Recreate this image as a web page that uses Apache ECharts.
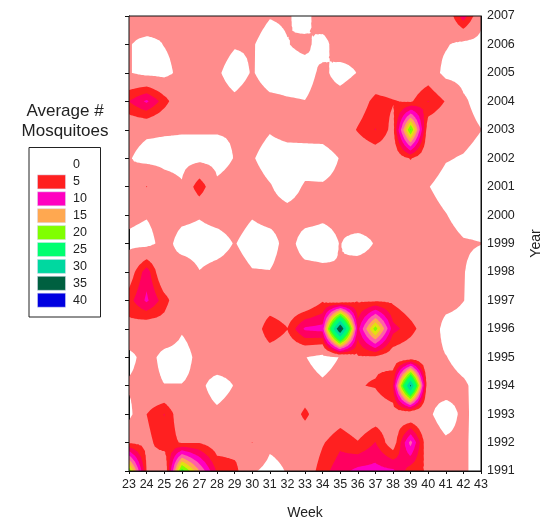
<!DOCTYPE html>
<html><head><meta charset="utf-8">
<style>html,body{margin:0;padding:0;background:#fff}#c{width:544px;height:521px}</style>
<script src="https://cdn.jsdelivr.net/npm/echarts@6/dist/echarts.min.js"></script>
</head><body><div id="c"></div>
<script>
const weeks = [23,24,25,26,27,28,29,30,31,32,33,34,35,36,37,38,39,40,41,42,43];
const years = [1991,1992,1993,1994,1995,1996,1997,1998,1999,2000,2001,2002,2003,2004,2005,2006,2007];
const y1991 = [22,4.9,1.5,24,15,7,6,1.4,0,1.2,2.75,6.5,9,10.8,11,10.5,6,4.7,2,1.4,0];
const y1992 = [4.6,4.1,6.5,4.7,4.8,3.3,3.4,5.05,1.67,2,2,4.7,6.9,5.2,7.6,3,13.5,2.2,1.33,1.4,0];
const y1993 = [0,5,7.6,2.6,2,1.47,2,2,2,2,5.9,2,3.2,2,3,3.4,1.5,1.35,0,1.47,0];
const y1994 = [1.47,2,1.08,1.08,1.55,0,1.1,2,2,2,2,1.4,2,4.85,5.2,7.4,36,1.5,2,1.4,0];
const y1995 = [0,2.3,0,0,1.67,2.6,2,2,2.6,2,1.1,0,1.1,4.7,4.4,3,2.5,2,1.1,0,0];
const y1996 = [3.9,2.4,3.4,1.27,2,2,2,2,7.4,5.1,10.5,11,41,9,21.5,8.5,6,3,0,0,0];
const y1997 = [6.5,10.5,6.2,2,2,2,2,2,2.2,2,1.5,4.7,2,4.7,4.4,4.4,2.8,2,2,1.05,0];
const y1998 = [3,9,1.5,2.5,1.07,1.75,2,1.15,1.07,2,1.75,1.45,1.05,2.3,2,2,2,2,2,1.1,0];
const y1999 = [0.4,0,2,0,0,0,1.12,0,0,1.9,0,0,1.08,0,1.16,2,2,2,2,1.25,1.05];
const y2000 = [1.6,1.18,2,1.67,1.18,1.85,2,1.18,1.85,1.75,1.85,1.4,1.5,2.7,2,2,2,2,1.1,0,0];
const y2001 = [1.5,5.1,2.5,1.33,7,1.56,2,2,1.18,0,1.25,1.2,1.5,2,2,2,2,1.1,0,0,0];
const y2002 = [1.2,0,0,0,0,0,1.1,1.2,0,0,0,0,1.1,2,2.7,2.8,5.2,2.6,1.2,0.8,0];
const y2003 = [2,1.5,1.3,1.2,1.2,1.2,1.2,2,1.18,1.8,1.9,2,2.5,5.3,7.6,4,23,2.8,2,2,1.05];
const y2004 = [7.5,10.5,6.2,2,2,2,1.47,2,1.47,1.2,1.05,2,2.2,3,6,5.2,4.6,7.6,4.8,1.4,0];
const y2005 = [1.2,0,0,2,2,1.33,0,1.17,0,0,0,1.6,0,1.1,2,2,2,3,0,0,0];
const y2006 = [1.2,0,1.1,2,2,2,1.2,1.2,0,0.9,1.6,0,2.6,2,2,2,2,2,1.3,0,0];
const y2007 = [2,3.5,2,2,2,2,2,2,1.13,1.3,0,2.7,2,2,2,2,2,2,2,9,2];
const grid = [y1991,y1992,y1993,y1994,y1995,y1996,y1997,y1998,y1999,y2000,y2001,y2002,y2003,y2004,y2005,y2006,y2007];

const levels = [1,5,7.5,10,12.5,15,17.5,20,22.5,25,30,35,40];
const levelColors = ['#FF8C8C','#FF2020','#FF0060','#FF00C0','#FF60A8','#FFA850','#E4E010','#80FF00','#30FF30','#00FF70','#00D8A0','#006040','#0000E0'];
const legendLabels = ['0','5','10','15','20','25','30','35','40'];
const legendColors = [null,'#FF2020','#FF00C0','#FFA850','#80FF00','#00FF70','#00D8A0','#006040','#0000E0'];

// one item per contour level, painted in ascending order
const bands = levels.map((lvl, li) => [weeks[0], years[0], li]);
const SUB = 5;

function clipAbove(tri, lvl) {
  const out = [];
  for (let k = 0; k < tri.length; k++) {
    const a = tri[k], b = tri[(k + 1) % tri.length];
    const ia = a[2] >= lvl, ib = b[2] >= lvl;
    if (ia) out.push(a);
    if (ia !== ib) {
      const t = (lvl - a[2]) / (b[2] - a[2]);
      out.push([a[0] + t * (b[0] - a[0]), a[1] + t * (b[1] - a[1]), lvl]);
    }
  }
  return out;
}

function renderBand(params, api) {
  const li = api.value(2);
  const lvl = levels[li];
  // contour tracing over each grid cell, bilinear between its four corner readings
  const sample = (i, j, u, v) => {
    const p = api.coord([weeks[i] + u, years[j] + v]);
    const val = (1 - u) * (1 - v) * grid[j][i] + u * (1 - v) * grid[j][i + 1]
              + (1 - u) * v * grid[j + 1][i] + u * v * grid[j + 1][i + 1];
    return [p[0], p[1], val];
  };
  let d = '';
  for (let j = 0; j < years.length - 1; j++) {
    for (let i = 0; i < weeks.length - 1; i++) {
      for (let s = 0; s < SUB; s++) {
        for (let r = 0; r < SUB; r++) {
          const a = sample(i, j, r / SUB, s / SUB), b = sample(i, j, (r + 1) / SUB, s / SUB),
                c = sample(i, j, (r + 1) / SUB, (s + 1) / SUB), e = sample(i, j, r / SUB, (s + 1) / SUB);
          [[a, b, c], [a, c, e]].forEach(t => {
            const poly = clipAbove(t, lvl);
            if (poly.length >= 3) {
              d += 'M' + poly.map(p => p[0].toFixed(2) + ' ' + p[1].toFixed(2)).join('L') + 'Z';
            }
          });
        }
      }
    }
  }
  if (!d) return null;
  return { type: 'path', shape: { pathData: d }, style: { fill: levelColors[li] }, silent: true };
}

const font = '"Liberation Sans", Arial, sans-serif';
const legendItems = [];
legendLabels.forEach((lab, k) => {
  const yc = 165 + k * 16.9;
  if (legendColors[k]) {
    legendItems.push({ type: 'rect', shape: { x: 37.5, y: yc - 7, width: 28, height: 14 },
      style: { fill: legendColors[k], stroke: '#d8d8f0', lineWidth: 0.5 } });
  }
  legendItems.push({ type: 'text', x: 73, y: yc, style: { text: lab, fill: '#222', font: '12.5px ' + font, textVerticalAlign: 'middle', textAlign: 'left' } });
});

const chart = echarts.init(document.getElementById('c'), null, { renderer: 'canvas' });
chart.setOption({
  animation: false,
  backgroundColor: '#fff',
  grid: { left: 129, right: 63, top: 16, bottom: 50, outerBoundsMode: 'none', containLabel: false, show: true, borderColor: '#111', borderWidth: 1, backgroundColor: 'transparent', z: 5 },
  xAxis: {
    type: 'value', min: 23, max: 43, interval: 1,
    name: 'Week', nameLocation: 'middle', nameGap: 35,
    nameTextStyle: { fontFamily: font, fontSize: 14, color: '#222' },
    splitLine: { show: false },
    axisLine: { show: true, lineStyle: { color: '#111' } },
    axisTick: { show: true, length: 3, lineStyle: { color: '#111' } },
    axisLabel: { fontFamily: font, fontSize: 12.5, color: '#222', margin: 7, showMinLabel: true, showMaxLabel: true, hideOverlap: false, formatter: v => String(v) }
  },
  yAxis: [{
    type: 'value', min: 1991, max: 2007, interval: 1, position: 'left',
    splitLine: { show: false },
    axisLine: { show: true, onZero: false, lineStyle: { color: '#111' } },
    axisTick: { show: true, length: 4, lineStyle: { color: '#111' } },
    axisLabel: { show: false }
  }, {
    type: 'value', min: 1991, max: 2007, interval: 1, position: 'right',
    name: 'Year', nameLocation: 'middle', nameGap: 48, nameRotate: 90,
    nameTextStyle: { fontFamily: font, fontSize: 14, color: '#222' },
    splitLine: { show: false },
    axisLine: { show: true, onZero: false, lineStyle: { color: '#111' } },
    axisTick: { show: false },
    axisLabel: { fontFamily: font, fontSize: 12.5, color: '#222', margin: 6, showMinLabel: true, showMaxLabel: true, hideOverlap: false, formatter: v => String(v) }
  }],
  series: [{
    type: 'custom', coordinateSystem: 'cartesian2d', xAxisIndex: 0, yAxisIndex: 0,
    data: bands, encode: { x: 0, y: 1 }, renderItem: renderBand, silent: true, clip: true, z: 1
  }],
  graphic: [
    { type: 'text', x: 65, y: 111, style: { text: 'Average #', fill: '#222', font: '17px ' + font, textAlign: 'center', textVerticalAlign: 'middle' } },
    { type: 'text', x: 65, y: 131, style: { text: 'Mosquitoes', fill: '#222', font: '17px ' + font, textAlign: 'center', textVerticalAlign: 'middle' } },
    { type: 'rect', shape: { x: 29, y: 147.5, width: 71.5, height: 169.5 }, style: { fill: '#fff', stroke: '#222', lineWidth: 1 } },
    { type: 'group', children: legendItems, z: 10 }
  ]
});
</script></body></html>
